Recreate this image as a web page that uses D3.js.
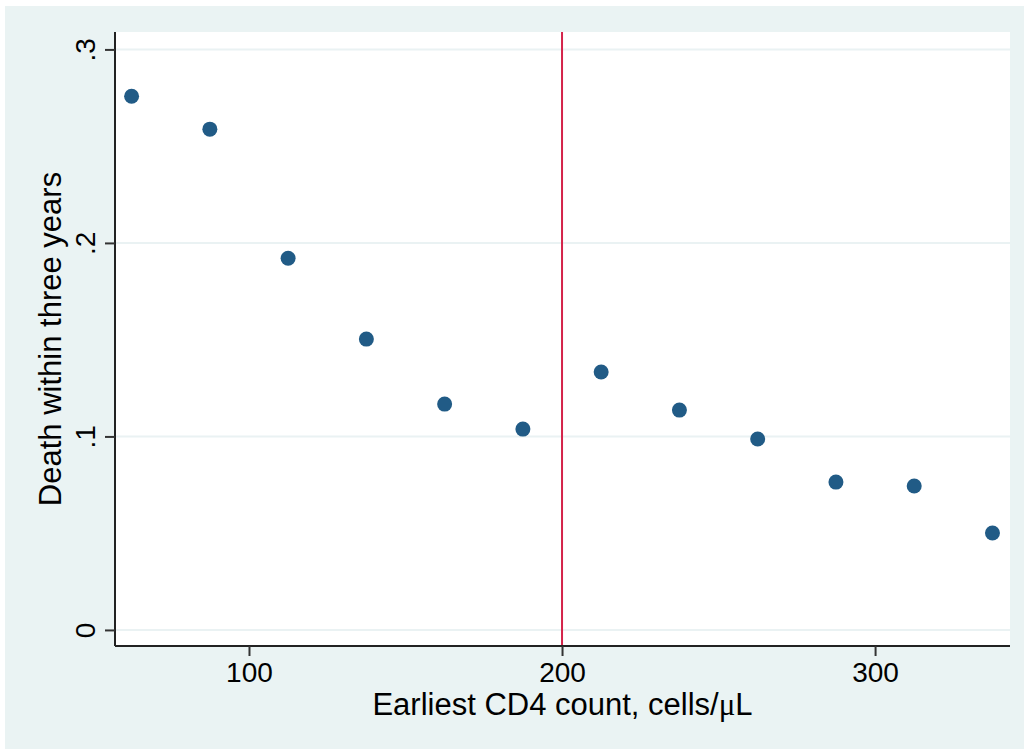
<!DOCTYPE html>
<html><head><meta charset="utf-8">
<script src="https://cdn.jsdelivr.net/npm/d3@7"></script>
<style>html,body{margin:0;padding:0;background:#fff;}svg{display:block;}</style>
</head><body>
<script>
const cd4Bins = [62.5, 87.5, 112.5, 137.5, 162.5, 187.5, 212.5, 237.5, 262.5, 287.5, 312.5, 337.5];
const deathRate = [0.2758, 0.2588, 0.1921, 0.1503, 0.1167, 0.1038, 0.1333, 0.1136, 0.0987, 0.0764, 0.0744, 0.0501];
const xTicks = [100, 200, 300];
const yTicks = [0, 0.1, 0.2, 0.3];
const yTickLabels = ["0", ".1", ".2", ".3"];
const thresholdCD4 = 200;
const xTitle = "Earliest CD4 count, cells/";
const yTitle = "Death within three years";

const W = 1024, H = 749;
const svg = d3.select("body").append("svg").attr("width", W).attr("height", H);
const font = "'Liberation Sans', Arial, Helvetica, sans-serif";

// outer panel
svg.append("rect").attr("x", 5).attr("y", 6).attr("width", W - 5).attr("height", H - 6).attr("fill", "#eaf3f3");

const plot = {left: 115, right: 1010, top: 32, bottom: 646};
svg.append("rect").attr("x", plot.left).attr("y", plot.top)
  .attr("width", plot.right - plot.left).attr("height", plot.bottom - plot.top).attr("fill", "#fff");

const x = d3.scaleLinear().domain([57.2, 343.1]).range([plot.left, plot.right]);
const y = d3.scaleLinear().domain([-0.0083, 0.309]).range([plot.bottom, plot.top]);

// gridlines
svg.append("g").selectAll("line").data(yTicks).join("line")
  .attr("x1", plot.left).attr("x2", plot.right)
  .attr("y1", d => y(d)).attr("y2", d => y(d))
  .attr("stroke", "#eaf2f3").attr("stroke-width", 2);

// threshold line
svg.append("line").attr("x1", x(thresholdCD4)).attr("x2", x(thresholdCD4))
  .attr("y1", plot.top).attr("y2", plot.bottom)
  .attr("stroke", "#d4234a").attr("stroke-width", 2);

// points
svg.append("g").selectAll("circle").data(cd4Bins).join("circle")
  .attr("cx", d => x(d)).attr("cy", (d, i) => y(deathRate[i]))
  .attr("r", 7.5).attr("fill", "#215b86");

// x axis
const xAxis = d3.axisBottom(x).tickValues(xTicks).tickSize(10).tickPadding(6).tickFormat(d3.format("d"));
const gx = svg.append("g").attr("transform", `translate(0,${plot.bottom})`).call(xAxis);
gx.select(".domain").attr("d", `M${plot.left},0H${plot.right}`).attr("stroke", "#222").attr("stroke-width", 2);
gx.selectAll(".tick line").attr("stroke", "#333").attr("stroke-width", 2);
gx.selectAll(".tick text").attr("font-family", font).attr("font-size", 28).attr("fill", "#000");

// y axis
const yAxis = d3.axisLeft(y).tickValues(yTicks).tickSize(10).tickFormat((d, i) => yTickLabels[i]);
const gy = svg.append("g").attr("transform", `translate(${plot.left},0)`).call(yAxis);
gy.select(".domain").attr("d", `M0,${plot.top}V${plot.bottom}`).attr("stroke", "#222").attr("stroke-width", 2);
gy.selectAll(".tick line").attr("stroke", "#333").attr("stroke-width", 2);
gy.selectAll(".tick text")
  .attr("font-family", font).attr("font-size", 28).attr("fill", "#000")
  .attr("x", null).attr("dy", null)
  .attr("text-anchor", "middle")
  .attr("transform", "translate(-20,0) rotate(-90)");

// axis titles
const xt = svg.append("text").attr("x", (plot.left + plot.right) / 2).attr("y", 715)
  .attr("text-anchor", "middle").attr("font-family", font).attr("font-size", 31).attr("fill", "#000")
  .text(xTitle);
xt.append("tspan").attr("font-family", "'Liberation Serif', 'Times New Roman', serif").text("μ");
xt.append("tspan").text("L");

svg.append("text").attr("transform", `translate(61,${(plot.top + plot.bottom) / 2}) rotate(-90)`)
  .attr("text-anchor", "middle").attr("font-family", font).attr("font-size", 31).attr("fill", "#000")
  .text(yTitle);
</script>
</body></html>
